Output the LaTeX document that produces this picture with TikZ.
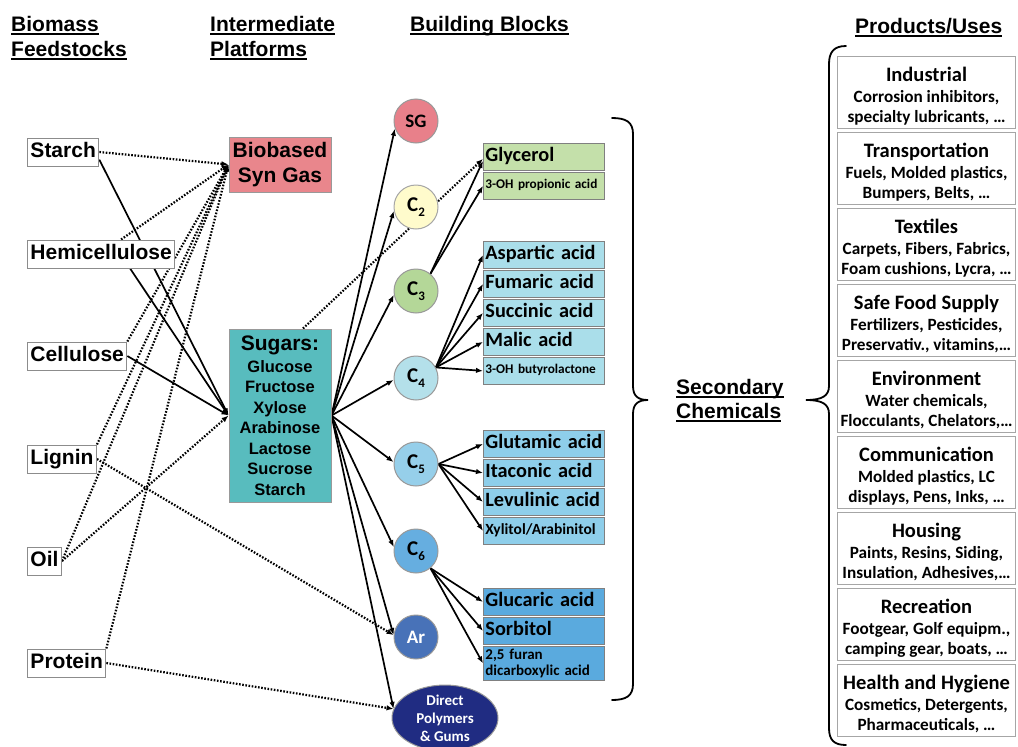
\documentclass[tikz,border=0pt]{standalone}
\usepackage{fontspec}
\setmainfont{Liberation Sans}
\newfontfamily\cb{Carlito}
\usetikzlibrary{arrows.meta,calc,shapes.geometric,backgrounds}
\newcommand{\ulin}[1]{\setbox0=\hbox{#1}\leavevmode\rlap{\copy0}\rule[-4pt]{\wd0}{1.8pt}}
\newcommand{\Cs}[1]{C\raisebox{-5pt}{\fontsize{13}{13}\selectfont #1}}
\newcommand{\ptl}[1]{\rule{0pt}{21pt}{\fontsize{20.5}{20.5}\selectfont #1}}
\definecolor{synpink}{RGB}{233,134,140}
\definecolor{sugteal}{RGB}{88,188,190}
\definecolor{sgc}{RGB}{232,128,138}
\definecolor{c2c}{RGB}{255,251,204}
\definecolor{c3c}{RGB}{180,215,152}
\definecolor{c4c}{RGB}{180,224,234}
\definecolor{c5c}{RGB}{150,207,234}
\definecolor{c6c}{RGB}{102,174,224}
\definecolor{arc}{RGB}{72,114,184}
\definecolor{dpc}{RGB}{32,44,130}
\definecolor{g3}{RGB}{196,224,170}
\definecolor{g4}{RGB}{170,222,234}
\definecolor{g5}{RGB}{142,206,234}
\definecolor{g6}{RGB}{90,170,222}
\begin{document}
\begin{tikzpicture}[x=1pt,y=-1pt,
  hdr/.style={font=\bfseries\fontsize{21}{24}\selectfont, anchor=base west, inner sep=0pt},
  feed/.style={draw=black!45, line width=1pt, fill=white, font=\bfseries\fontsize{21}{24}\selectfont,
    inner xsep=3pt, inner ysep=0pt, minimum height=28pt, text height=15.5pt, text depth=4.5pt, anchor=west},
  plat/.style={draw=black!40, line width=1pt, minimum width=102pt, align=center, inner sep=0pt},
  bb/.style={circle, draw=black!40, line width=1pt, minimum size=44pt, inner sep=0pt,
    font=\cb\bfseries\fontsize{21}{21}\selectfont},
  chem/.style={draw=black!50, line width=0.8pt, minimum width=121pt, text width=117pt, align=left,
    inner xsep=2pt, inner ysep=0pt, minimum height=27pt, anchor=north west},
  big/.style={font=\cb\bfseries\fontsize{20.3}{22}\selectfont, text height=14pt, text depth=4pt},
  small/.style={font=\cb\bfseries\fontsize{13.3}{14}\selectfont, text height=9pt, text depth=3pt},
  prod/.style={draw=black!35, line width=1pt, minimum width=178pt, minimum height=72pt, anchor=north west,
    align=center, inner sep=0pt, font=\cb\bfseries\fontsize{17.2}{20}\selectfont},
  conn/.style={line width=1.7pt, -{Latex[length=7pt,width=5.5pt]}},
  dots/.style={line width=2.2pt, dash pattern=on 1.6pt off 1.6pt, -{Latex[length=7pt,width=5.5pt]}},
  brace/.style={line width=1.8pt, line cap=round}]
\useasboundingbox (0,0) rectangle (1018,747);

% headers
\node[hdr] (h1a) at (11,31) {\ulin{Biomass}};
\node[hdr] (h1b) at (11,56) {\ulin{Feedstocks}};
\node[hdr] (h2a) at (210,31) {\ulin{Intermediate}};
\node[hdr] (h2b) at (210,56) {\ulin{Platforms}};
\node[hdr] (h3) at (410,31) {\ulin{Building Blocks}};
\node[hdr] (h4) at (855,33) {\ulin{Products/Uses}};
\node[hdr] (sc1) at (676,394) {\ulin{Secondary}};
\node[hdr] (sc2) at (676,418) {\ulin{Chemicals}};

% feedstocks
\node[feed] (starch) at (27,152) {Starch};
\node[feed] (hemi) at (27,254) {Hemicellulose};
\node[feed] (cell) at (27,356) {Cellulose};
\node[feed] (lignin) at (27,459) {Lignin};
\node[feed] (oil) at (27,561) {Oil};
\node[feed] (protein) at (27,663) {Protein};

% platforms
\node[plat, fill=synpink, minimum height=55pt, font=\bfseries\fontsize{21}{25}\selectfont] (syngas) at (280,164.5) {Biobased\\Syn Gas};
\node[plat, fill=sugteal, minimum height=173pt, font=\bfseries\fontsize{16.5}{20.5}\selectfont] (sugars) at (280,415.5)
  {{\fontsize{21}{22}\selectfont Sugars:}\\[1.5pt]Glucose\\Fructose\\Xylose\\Arabinose\\Lactose\\Sucrose\\Starch};

% building blocks
\node[bb, fill=sgc, font=\cb\bfseries\fontsize{19}{19}\selectfont] (sg) at (416,121) {SG};
\node[bb, fill=c2c, draw=black!35] (c2) at (416,207) {\Cs{2}};
\node[bb, fill=c3c] (c3) at (416,291) {\Cs{3}};
\node[bb, fill=c4c] (c4) at (416,378) {\Cs{4}};
\node[bb, fill=c5c] (c5) at (416,464) {\Cs{5}};
\node[bb, fill=c6c] (c6) at (416,551) {\Cs{6}};
\node[bb, fill=arc, text=white, font=\cb\bfseries\fontsize{19}{19}\selectfont] (ar) at (416,637) {Ar};
\node[ellipse, fill=dpc, draw=black!40, line width=1pt, minimum width=106pt, minimum height=60pt, inner sep=0pt,
  text=white, align=center, font=\cb\bfseries\fontsize{15}{18}\selectfont] (dp) at (445,718) {Direct\\Polymers\\\& Gums};

% chemicals
\node[chem, big, fill=g3] (glyc) at (483,143) {Glycerol};
\node[chem, small, fill=g3] (ohp) at (483,172) {3-OH propionic acid};
\node[chem, big, fill=g4] (asp) at (483,241) {\mbox{Aspartic acid}};
\node[chem, big, fill=g4] (fum) at (483,270) {\mbox{Fumaric acid}};
\node[chem, big, fill=g4] (suc) at (483,299) {\mbox{Succinic acid}};
\node[chem, big, fill=g4] (mal) at (483,328) {Malic acid};
\node[chem, small, fill=g4] (ohb) at (483,357) {3-OH butyrolactone};
\node[chem, big, fill=g5] (glu) at (483,430) {\mbox{Glutamic acid}};
\node[chem, big, fill=g5] (ita) at (483,459) {\mbox{Itaconic acid}};
\node[chem, big, fill=g5] (lev) at (483,488) {\mbox{Levulinic acid}};
\node[chem, fill=g5, font=\cb\bfseries\fontsize{15.5}{16}\selectfont, text height=11pt, text depth=3.5pt] (xyl) at (483,517) {Xylitol/Arabinitol};
\node[chem, big, fill=g6] (glc) at (483,588) {\mbox{Glucaric acid}};
\node[chem, big, fill=g6] (sor) at (483,617) {Sorbitol};
\node[chem, fill=g6, minimum height=34pt, font=\cb\bfseries\fontsize{15}{16}\selectfont] (fdca) at (483,646) {2,5 furan\\dicarboxylic acid};

% products
\node[prod] (p1) at (837,56) {\ptl{Industrial}\\[1pt]Corrosion inhibitors,\\specialty lubricants, …};
\node[prod] (p2) at (837,132) {\ptl{Transportation}\\[1pt]Fuels, Molded plastics,\\Bumpers, Belts, …};
\node[prod] (p3) at (837,208) {\ptl{Textiles}\\[1pt]Carpets, Fibers, Fabrics,\\Foam cushions, Lycra, …};
\node[prod] (p4) at (837,284) {\ptl{Safe Food Supply}\\[1pt]Fertilizers, Pesticides,\\Preservativ., vitamins,…};
\node[prod] (p5) at (837,360) {\ptl{Environment}\\[1pt]Water chemicals,\\Flocculants, Chelators,…};
\node[prod] (p6) at (837,436) {\ptl{Communication}\\[1pt]Molded plastics, LC\\displays, Pens, Inks, …};
\node[prod] (p7) at (837,512) {\ptl{Housing}\\[1pt]Paints, Resins, Siding,\\Insulation, Adhesives,…};
\node[prod] (p8) at (837,588) {\ptl{Recreation}\\[1pt]Footgear, Golf equipm.,\\camping gear, boats, …};
\node[prod] (p9) at (837,664) {\ptl{Health and Hygiene}\\[1pt]Cosmetics, Detergents,\\Pharmaceuticals, …};

% braces
\draw[brace] (612,118) .. controls (626,118) and (633,122) .. (633,134) -- (633,386)
  .. controls (633,396) and (638,400) .. (648,400) .. controls (638,400) and (633,404) .. (633,414)
  -- (633,684) .. controls (633,696) and (626,700) .. (612,700);
\draw[brace] (846,46) .. controls (834,46) and (829,52) .. (829,64) -- (829,386)
  .. controls (829,396) and (822,400) .. (806,400) .. controls (822,400) and (829,404) .. (829,414)
  -- (829,728) .. controls (829,740) and (834,745) .. (846,745);

\begin{pgfonlayer}{background}
% feedstocks to sugars (solid)
\draw[conn] (starch.-12) -- (sugars.west);
\draw[conn] ($(hemi.south)+(29,0)$) -- (sugars.west);
\draw[conn] (cell.east) -- (sugars.west);
% dotted to syn gas
\draw[dots] (starch.east) -- (syngas.west);
\draw[dots] ($(hemi.north)+(20,0)$) -- (syngas.west);
\draw[dots] (cell.north east) -- (syngas.west);
\draw[dots] (lignin.north east) -- (syngas.west);
\draw[dots] (oil.east) -- (syngas.west);
\draw[dots] (protein.north east) -- (syngas.west);
% other dotted
\draw[dots] (oil.east) -- (sugars.west);
\draw[dots] (lignin.east) -- (ar.175);
\draw[dots] (protein.east) -- (dp.170);
\draw[dots] ($(sugars.north)+(23,0)$) -- ($(glyc.west)+(0,2)$);
% sugars to building blocks
\draw[conn] (sugars.east) -- (sg.200);
\draw[conn] (sugars.east) -- (c2.190);
\draw[conn] (sugars.east) -- (c3.190);
\draw[conn] (sugars.east) -- (c4.185);
\draw[conn] (sugars.east) -- (c5.175);
\draw[conn] (sugars.east) -- (c6.170);
\draw[conn] (sugars.east) -- (ar.175);
\draw[conn] (sugars.east) -- (dp.170);
% building blocks to chemicals
\draw[conn] (c3.50) -- ($(glyc.west)+(0,4)$);
\draw[conn] (c3.50) -- (ohp.west);
\foreach \t in {asp,fum,suc,mal,ohb} \draw[conn] (c4.28) -- (\t.west);
\foreach \t in {glu,ita,lev,xyl} \draw[conn] (c5.east) -- (\t.west);
\foreach \t in {glc,sor,fdca} \draw[conn] (c6.-50) -- (\t.west);
\end{pgfonlayer}
\end{tikzpicture}
\end{document}
